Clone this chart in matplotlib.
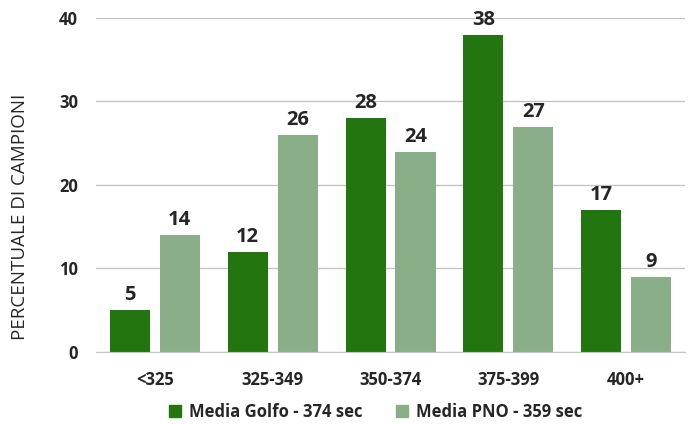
import numpy as np
import matplotlib
matplotlib.use("Agg")
import matplotlib.pyplot as plt
from matplotlib.patches import Patch

# ---------------------------------------------
# data
# ---------------------------------------------
categories = ["<325", "325-349", "350-374", "375-399", "400+"]
golfo = [5, 12, 28, 38, 17]
pno = [14, 26, 24, 27, 9]
series_names = ["Media Golfo - 374 sec", "Media PNO - 359 sec"]
y_ticks = [0, 10, 20, 30, 40]

dark = "#23760f"
light = "#8aae87"
txt = "#262626"

plt.rcParams["font.family"] = ["Open Sans", "DejaVu Sans"]

fig = plt.figure(figsize=(6.93, 4.24), dpi=100)
ax = fig.add_axes([0.1385, 0.17, 0.85, 0.7875])

x = np.arange(len(categories))
w = 0.34
off = 0.212
b1 = ax.bar(x - off, golfo, w, color=dark)
b2 = ax.bar(x + off, pno, w, color=light)

# value labels above each bar
for bars, vals in [(b1, golfo), (b2, pno)]:
    for b, v in zip(bars, vals):
        ax.text(b.get_x() + b.get_width() / 2, v + 0.6, str(v), ha="center", va="bottom",
                fontsize=14.5, fontweight="bold", color=txt)

ax.set_xlim(-0.5, len(categories) - 0.5)
ax.set_ylim(0, 40)
ax.set_yticks(y_ticks)
ax.set_xticks(x)
ax.set_xticklabels(categories)
ax.tick_params(axis="both", length=0, labelsize=12, labelcolor=txt)
ax.tick_params(axis="x", pad=14)
ax.tick_params(axis="y", pad=13)
for lab in ax.get_xticklabels() + ax.get_yticklabels():
    lab.set_fontweight("bold")

ax.yaxis.grid(True, color="#c4c4c4", linewidth=1)
ax.set_axisbelow(True)
for s in ["top", "right", "left"]:
    ax.spines[s].set_visible(False)
ax.spines["bottom"].set_color("#c4c4c4")

ax.set_ylabel("PERCENTUALE DI CAMPIONI", fontsize=13.5, color=txt, va="center")
ax.yaxis.set_label_coords(-0.129, 0.405)

handles = [Patch(color=dark), Patch(color=light)]
leg = fig.legend(handles, series_names, loc="center", bbox_to_anchor=(0.542, 0.028), ncol=2,
                 frameon=False, handlelength=0.7, handleheight=0.7, columnspacing=2.0, handletextpad=0.5,
                 prop={"size": 12, "weight": "bold"})
for t in leg.get_texts():
    t.set_color(txt)

fig.savefig("out.png", dpi=100)
